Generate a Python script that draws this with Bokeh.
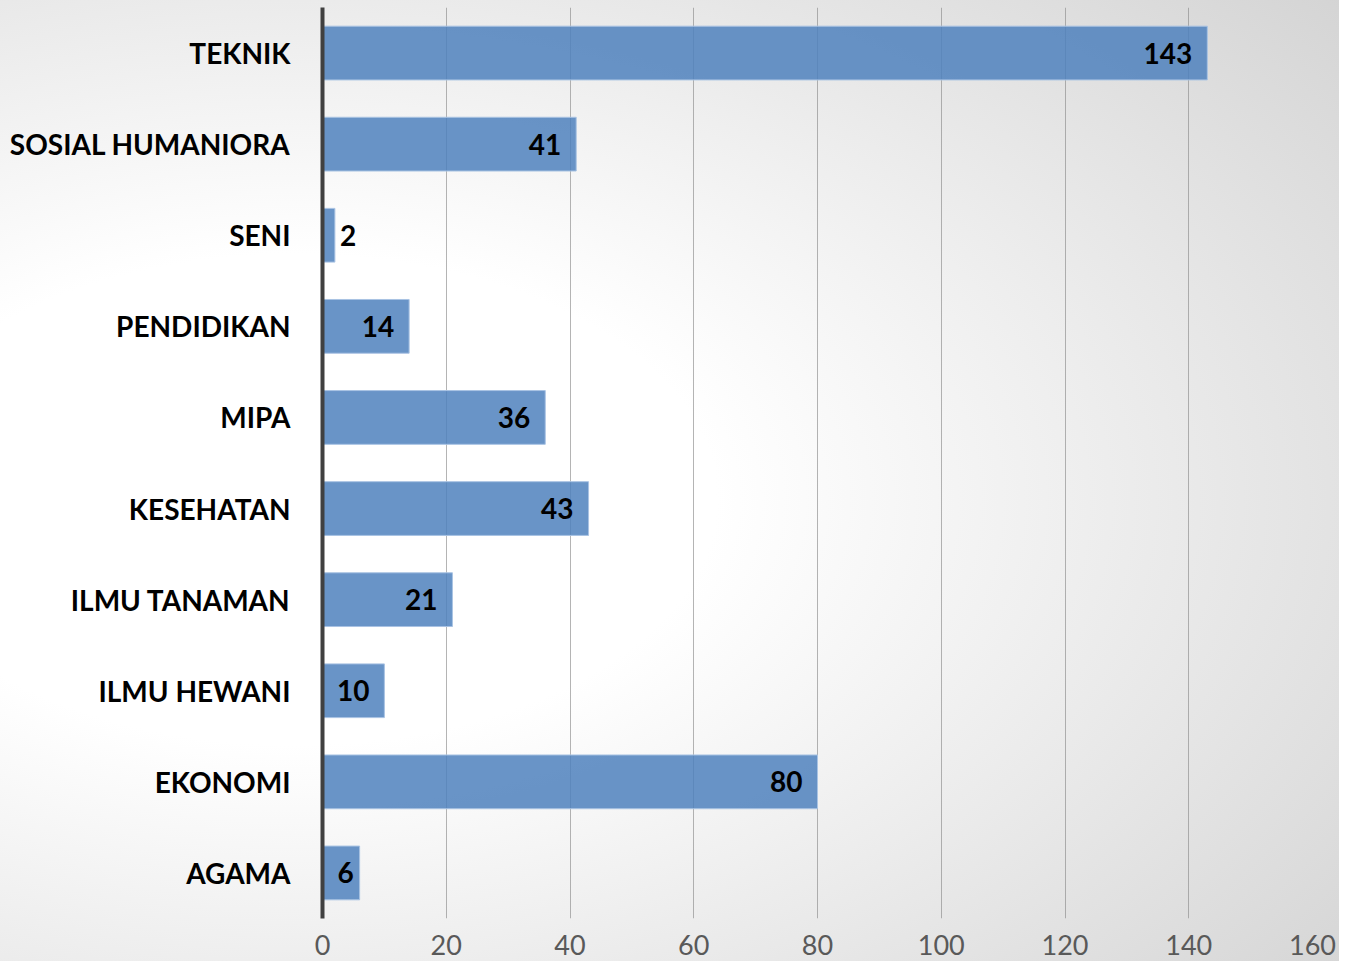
from bokeh.plotting import figure
from bokeh.models import ColumnDataSource, FactorRange, FixedTicker, Range1d
from bokeh.core.properties import value
from bokeh.embed import file_html
from bokeh.resources import INLINE

categories = ["TEKNIK", "SOSIAL HUMANIORA", "SENI", "PENDIDIKAN", "MIPA",
              "KESEHATAN", "ILMU TANAMAN", "ILMU HEWANI", "EKONOMI", "AGAMA"]
counts = [143, 41, 2, 14, 36, 43, 21, 10, 80, 6]
x_ticks = [0, 20, 40, 60, 80, 100, 120, 140, 160]

FONT = "Lato"

inside = [c >= 5 for c in counts]
src = ColumnDataSource(dict(
    cat=categories,
    val=counts,
    lbl=[str(c) for c in counts],
    align=["right" if i else "left" for i in inside],
    xoff=[(-15 if c >= 8 else -6) if i else 5 for c, i in zip(counts, inside)],
))

p = figure(
    width=1339, height=961,
    y_range=FactorRange(factors=list(reversed(categories))),
    x_range=Range1d(0, 160),
    output_backend="svg", toolbar_location=None,
    min_border_left=322, min_border_right=27, min_border_top=7, min_border_bottom=43,
)
p.styles = {"background": "radial-gradient(ellipse 105% 85% at 22% 52%, #ffffff 30%, #d2d2d2 100%)"}
p.background_fill_alpha = 0
p.border_fill_alpha = 0
p.outline_line_color = None

p.hbar(y="cat", right="val", left=0, height=0.59, source=src,
       fill_color="#4F81BD", fill_alpha=0.85, line_color="#a9c3e3", line_width=1)

p.text(x="val", y="cat", text="lbl", source=src, text_align="align", x_offset="xoff",
       text_baseline="middle", text_font=value(FONT), text_font_style="bold",
       text_font_size="28px", text_color="#000000")

p.xgrid.ticker = FixedTicker(ticks=x_ticks)
p.xgrid.grid_line_color = "#8c8c8c"
p.xgrid.grid_line_alpha = 0.65
p.xgrid.grid_line_width = 1
p.ygrid.grid_line_color = None

p.xaxis.ticker = FixedTicker(ticks=x_ticks)
p.xaxis.axis_line_color = None
p.xaxis.major_tick_line_color = None
p.xaxis.minor_tick_line_color = None
p.xaxis.major_label_text_font = FONT
p.xaxis.major_label_text_font_size = "27px"
p.xaxis.major_label_text_color = "#595959"
p.xaxis.major_label_standoff = 10

p.yaxis.axis_line_color = "#404040"
p.yaxis.axis_line_width = 4
p.yaxis.major_tick_line_color = None
p.yaxis.minor_tick_line_color = None
p.yaxis.major_label_text_font = FONT
p.yaxis.major_label_text_font_style = "bold"
p.yaxis.major_label_text_font_size = "28px"
p.yaxis.major_label_text_color = "#000000"
p.yaxis.major_label_standoff = 26

open("out.html", "w").write(file_html(p, INLINE))
